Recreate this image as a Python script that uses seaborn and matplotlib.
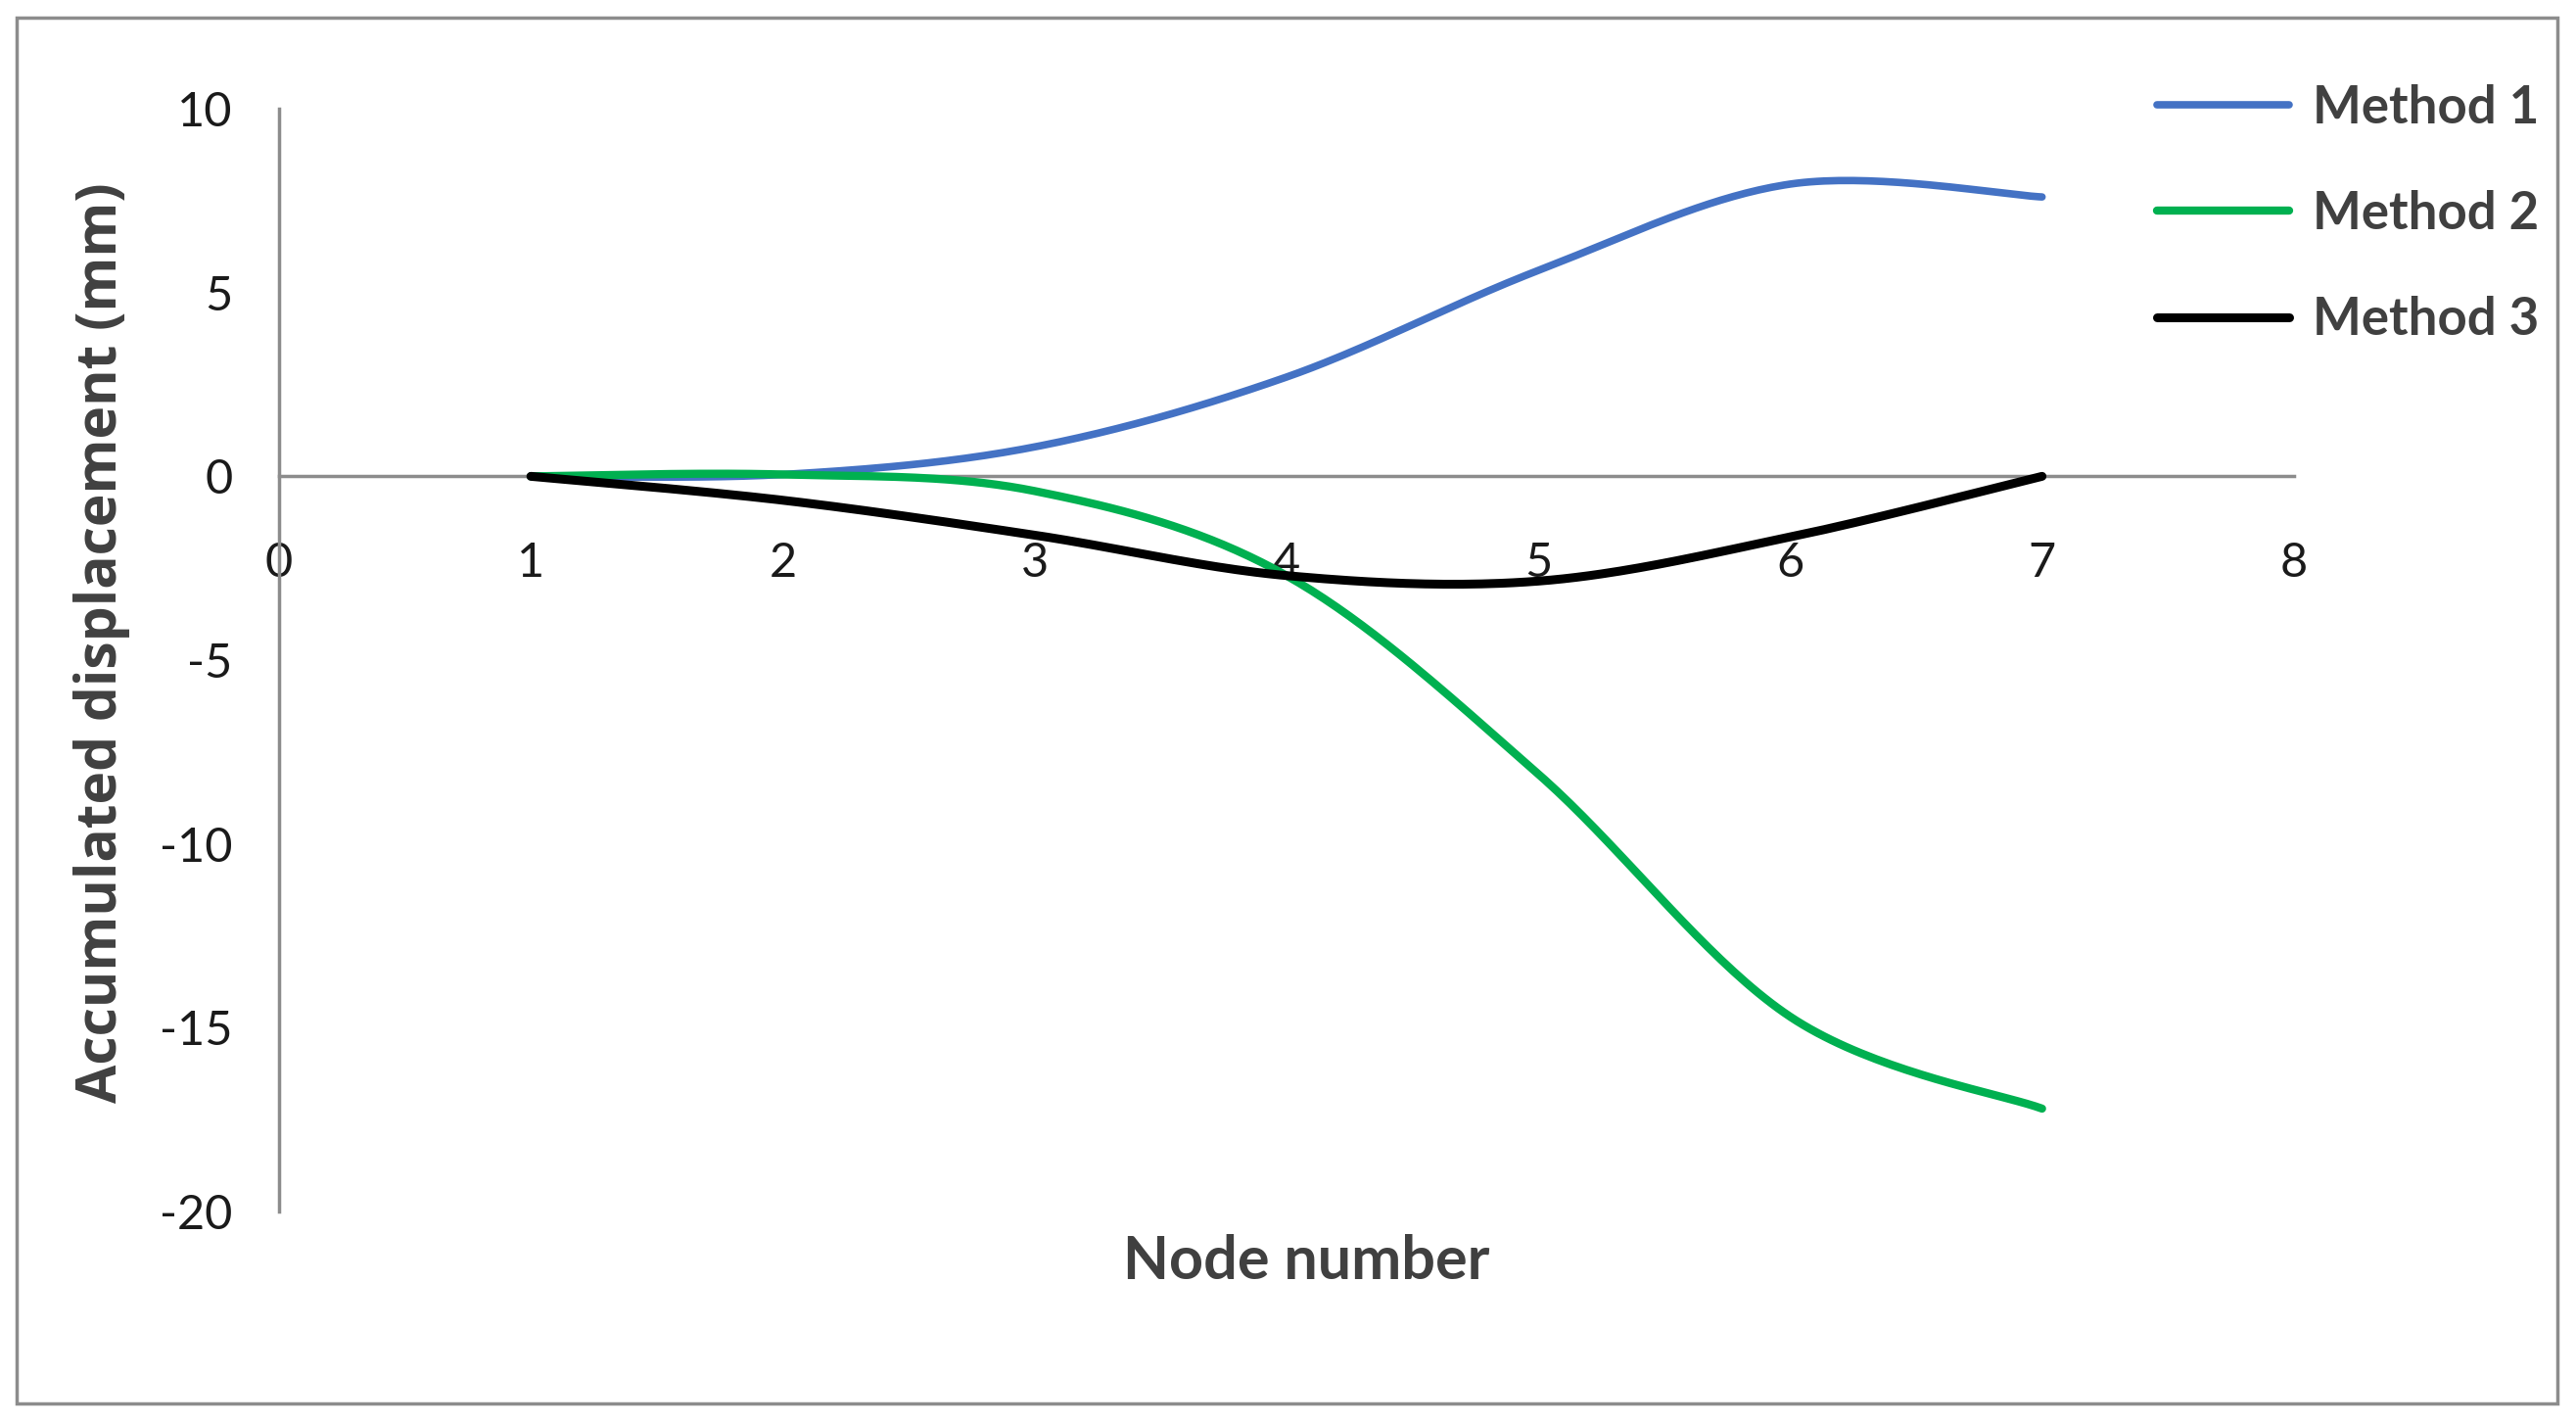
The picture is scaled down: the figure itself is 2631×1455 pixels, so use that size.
import numpy as np
import pandas as pd
import matplotlib
matplotlib.use("Agg")
import matplotlib.pyplot as plt
import matplotlib.patches as mpatches
import seaborn as sns

# data
nodes = [1, 2, 3, 4, 5, 6, 7]
method_1 = [0.0, 0.05, 0.8, 2.7, 5.6, 7.95, 7.6]
method_2 = [0.0, 0.05, -0.4, -2.7, -8.1, -14.7, -17.2]
method_3 = [0.0, -0.65, -1.6, -2.7, -2.85, -1.65, 0.0]
methods = ["Method 1", "Method 2", "Method 3"]
colors = ["#4472C4", "#00B050", "#000000"]
widths = [5.5, 6.0, 6.5]
y_ticks = [10, 5, 0, -5, -10, -15, -20]
x_ticks = [0, 1, 2, 3, 4, 5, 6, 7, 8]


def excel_smooth(x, y, n=40):
    # Excel-style smoothed line: cubic Bezier between points, tension 1/6
    pts = np.column_stack([x, y]).astype(float)
    pad = np.vstack([pts[0], pts, pts[-1]])
    out = []
    for i in range(len(pts) - 1):
        p0, p1, p2, p3 = pad[i], pad[i + 1], pad[i + 2], pad[i + 3]
        c1 = p1 + (p2 - p0) / 6
        c2 = p2 - (p3 - p1) / 6
        t = np.linspace(0, 1, n, endpoint=(i == len(pts) - 2))[:, None]
        seg = (1 - t) ** 3 * p1 + 3 * (1 - t) ** 2 * t * c1 + 3 * (1 - t) * t ** 2 * c2 + t ** 3 * p2
        out.append(seg)
    return np.vstack(out)


frames = []
for name, vals in zip(methods, [method_1, method_2, method_3]):
    xy = excel_smooth(nodes, vals)
    frames.append(pd.DataFrame({"node": xy[:, 0], "disp": xy[:, 1], "method": name}))
df = pd.concat(frames, ignore_index=True)

sns.set_style("white")
plt.rcParams["font.family"] = ["Lato", "DejaVu Sans"]
plt.rcParams["axes.unicode_minus"] = False

fig = plt.figure(figsize=(26.31, 14.55), dpi=100)
ax = fig.add_axes([0.1083, 0.1498, 0.7822, 0.7739])

sns.lineplot(data=df, x="node", y="disp", hue="method", palette=colors,
             sort=False, estimator=None, ax=ax, legend=False)
for line, lw in zip(ax.lines, widths):
    line.set_linewidth(lw)
    line.set_solid_capstyle("round")

ax.set_xlim(0, 8)
ax.set_ylim(-20, 10)
ax.set_xticks(x_ticks)
ax.set_yticks(y_ticks)
ax.tick_params(axis="both", length=0, labelsize=35, labelcolor="#1a1a1a")
ax.tick_params(axis="x", pad=48)
ax.tick_params(axis="y", pad=34)

for side in ["top", "right"]:
    ax.spines[side].set_visible(False)
ax.spines["bottom"].set_position(("data", 0))
for side in ["left", "bottom"]:
    ax.spines[side].set_color("#8c8c8c")
    ax.spines[side].set_linewidth(2.5)
ax.spines["bottom"].set_zorder(0)

ax.set_ylabel("Accumulated displacement (mm)", fontsize=41, fontweight="bold",
              color="#404040", family=["Open Sans", "DejaVu Sans"])
ax.yaxis.set_label_coords(-0.074, 0.516)
ax.set_xlabel("Node number", fontsize=44, fontweight="bold", color="#404040")
ax.xaxis.set_label_coords(0.51, -0.02)

fig.legend(handles=ax.lines[:3], labels=methods, loc="upper left",
           bbox_to_anchor=(0.8374, 0.941), frameon=False,
           prop={"size": 38, "weight": "bold"}, labelcolor="#404040",
           handlelength=2.55, handletextpad=0.45, labelspacing=1.12,
           borderpad=0, borderaxespad=0)

# outer frame around the whole picture
fig.patches.append(mpatches.Rectangle((0.0065, 0.0151), 0.9863, 0.9725,
                                      transform=fig.transFigure, fill=False,
                                      edgecolor="#8c8c8c", linewidth=2.5))

fig.savefig("out.png", dpi=100)
